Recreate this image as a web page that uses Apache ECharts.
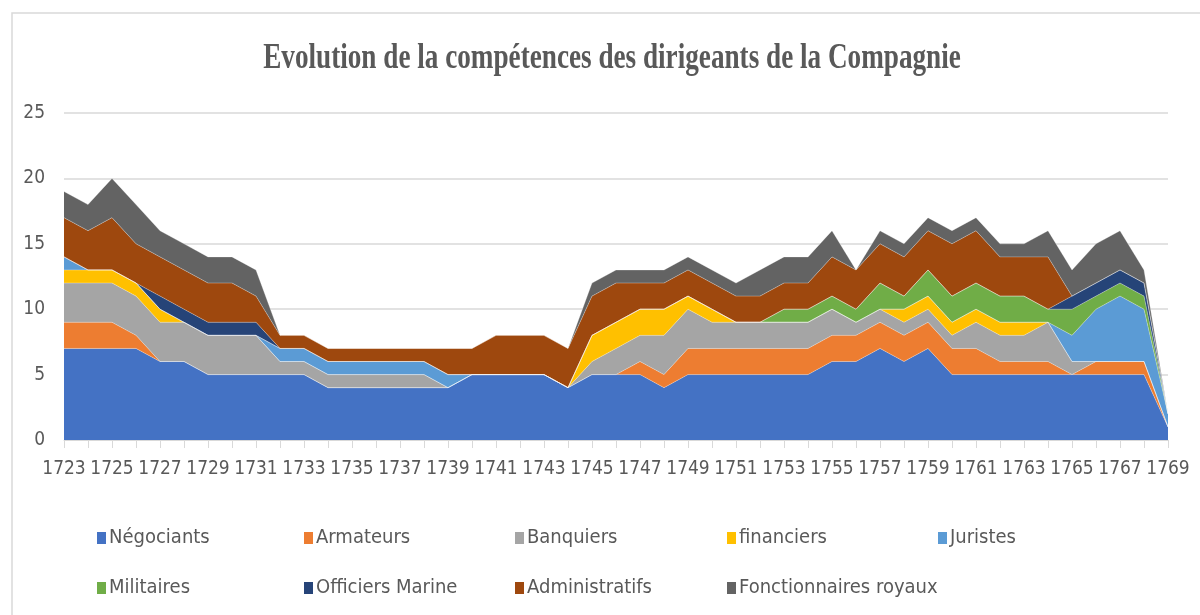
<!DOCTYPE html>
<html>
<head>
<meta charset="utf-8">
<script src="https://cdn.jsdelivr.net/npm/echarts@6/dist/echarts.min.js"></script>
<style>html,body{margin:0;padding:0;background:#fff}#c{width:1200px;height:615px}</style>
</head>
<body>
<div id="c"></div>
<script>
const years = [];
for (let y = 1723; y <= 1769; y++) years.push(String(y));

const negociants = [7,7,7,7,6,6,5,5,5,5, 5,4,4,4,4,4,4,5,5,5, 5,4,5,5,5,4,5,5,5,5, 5,5,6,6,7,6,7,5,5,5, 5,5,5,5,5,5,1];
const armateurs  = [2,2,2,1,0,0,0,0,0,0, 0,0,0,0,0,0,0,0,0,0, 0,0,0,0,1,1,2,2,2,2, 2,2,2,2,2,2,2,2,2,1, 1,1,0,1,1,1,0];
const banquiers  = [3,3,3,3,3,3,3,3,3,1, 1,1,1,1,1,1,0,0,0,0, 0,0,1,2,2,3,3,2,2,2, 2,2,2,1,1,1,1,1,2,2, 2,3,1,0,0,0,0];
const financiers = [1,1,1,1,1,0,0,0,0,0, 0,0,0,0,0,0,0,0,0,0, 0,0,2,2,2,2,1,1,0,0, 0,0,0,0,0,1,1,1,1,1, 1,0,0,0,0,0,0];
const juristes   = [1,0,0,0,0,0,0,0,0,1, 1,1,1,1,1,1,1,0,0,0, 0,0,0,0,0,0,0,0,0,0, 0,0,0,0,0,0,0,0,0,0, 0,0,2,4,5,4,1];
const militaires = [0,0,0,0,0,0,0,0,0,0, 0,0,0,0,0,0,0,0,0,0, 0,0,0,0,0,0,0,0,0,0, 1,1,1,1,2,1,2,2,2,2, 2,1,2,1,1,1,0];
const officiers  = [0,0,0,0,1,1,1,1,1,0, 0,0,0,0,0,0,0,0,0,0, 0,0,0,0,0,0,0,0,0,0, 0,0,0,0,0,0,0,0,0,0, 0,0,1,1,1,1,0];
const administratifs = [3,3,4,3,3,3,3,3,2,1, 1,1,1,1,1,1,2,2,3,3, 3,3,3,3,2,2,2,2,2,2, 2,2,3,3,3,3,3,4,4,3, 3,4,0,0,0,0,0];
const fonctionnaires = [2,2,3,3,2,2,2,2,2,0, 0,0,0,0,0,0,0,0,0,0, 0,0,1,1,1,1,1,1,1,2, 2,2,2,0,1,1,1,1,1,1, 1,2,2,3,3,1,0];

const seriesNames = ['Négociants','Armateurs','Banquiers','financiers','Juristes','Militaires','Officiers Marine','Administratifs','Fonctionnaires royaux'];
const seriesData = [negociants, armateurs, banquiers, financiers, juristes, militaires, officiers, administratifs, fonctionnaires];
const colors = ['#4472C4','#ED7D31','#A5A5A5','#FFC000','#5B9BD5','#70AD47','#264478','#9E480E','#636363'];

const narrow = "'Liberation Sans Narrow','DejaVu Sans Condensed','Liberation Sans',sans-serif";
const txt = '#595959';

const legendPos = [[97,528],[304,528],[515,528],[727,528],[938,528],[97,578],[304,578],[515,578],[727,578]];

const chart = echarts.init(document.getElementById('c'));
chart.setOption({
  animation: false,
  color: colors,
  grid: {left: 64, right: 32, top: 113, bottom: 175},
  graphic: [
    {type:'rect', shape:{x:12, y:13, width:1200, height:620}, style:{fill:'none', stroke:'#d9d9d9', lineWidth:1.5}, silent:true},
    {type:'text', x:612, y:59, scaleX:0.755,
     style:{text:'Evolution de la compétences des dirigeants de la Compagnie', fill:txt,
            font:"bold 36px 'Liberation Serif','DejaVu Serif',serif", textAlign:'center', textVerticalAlign:'middle'}}
  ],
  legend: seriesNames.map((n, i) => ({
    data: [n], left: legendPos[i][0], top: legendPos[i][1], padding: 0,
    itemWidth: 9, itemHeight: 12, icon: 'rect',
    textStyle: {color: txt, fontSize: 20, fontFamily: narrow, padding: [0,0,0,-2]}
  })),
  xAxis: {
    type: 'category', data: years, boundaryGap: false,
    axisLine: {lineStyle: {color: '#d9d9d9', width: 1}},
    axisTick: {show: true, interval: 0, length: 8, lineStyle: {color: '#d9d9d9'}},
    axisLabel: {interval: 1, color: txt, fontSize: 19, fontFamily: narrow, margin: 20},
    splitLine: {show: false}
  },
  yAxis: {
    type: 'value', min: 0, max: 25, interval: 5,
    axisLine: {show: false}, axisTick: {show: false},
    axisLabel: {color: txt, fontSize: 19, fontFamily: narrow, margin: 19},
    splitLine: {lineStyle: {color: '#d9d9d9', width: 1.5}}
  },
  series: seriesNames.map((n, i) => ({
    name: n, type: 'line', stack: 'total', data: seriesData[i],
    symbol: 'none', lineStyle: {width: 0.6, color: 'rgba(255,255,255,0.5)'},
    areaStyle: {color: colors[i], opacity: 1},
    itemStyle: {color: colors[i]}
  }))
});
</script>
</body>
</html>
